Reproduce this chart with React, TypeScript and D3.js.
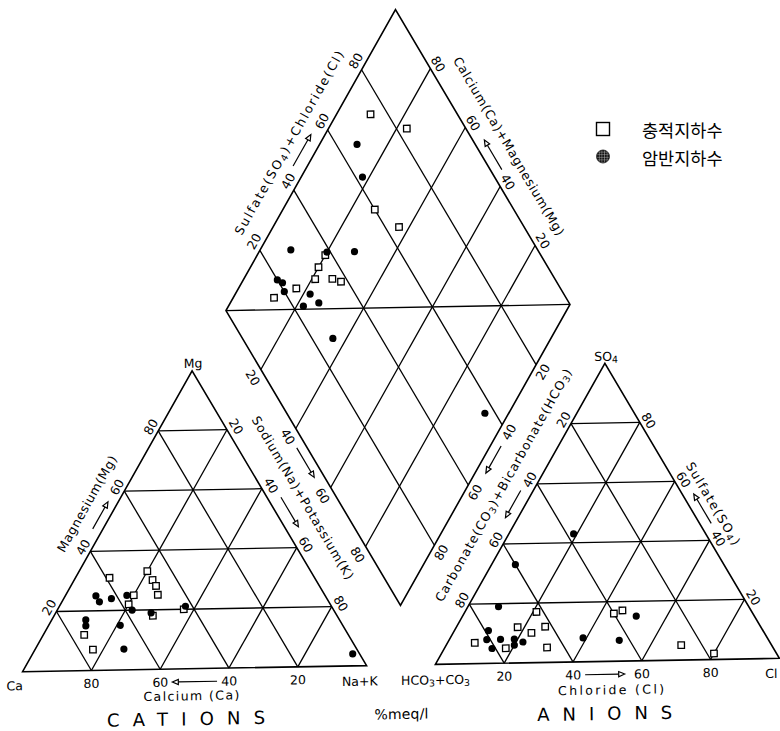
import React from "react";
import * as d3 from "d3";

const width = 780;
const height = 731;

const side = 344;
const gap = 0.2 * side;
const sin60 = Math.sqrt(3) / 2;
const baseY = 665;
const midX = 401;

// the scanned figure is slightly skewed
const skew = "matrix(1,-0.0177,0.0084,1,-5.6,7.1)";

const gridSteps = [20, 40, 60, 80];

// cation triangle, %meq/l : [Ca, Mg, Na+K]
const cationAlluvial = [
  [59, 31, 10], [47, 33, 20], [47, 30, 23], [47, 28, 25], [48, 25, 27], [55, 25, 20],
  [58, 22, 20], [43, 20, 37], [53, 18, 29], [76, 12, 12], [76, 7, 17]
];
const cationBedrock = [
  [66, 25, 9], [66, 23, 11], [62, 24, 14], [57, 25, 18], [58, 20, 22], [53, 19, 28],
  [42, 21, 37], [73, 17, 10], [74, 15, 11], [64, 15, 21], [67, 7, 26], [2, 4, 94]
];

// anion triangle, %meq/l : [HCO3+CO3, SO4, Cl]
const anionAlluvial = [
  [62, 17, 21], [70, 12, 18], [67, 10, 23], [62, 12, 26], [65, 5, 30], [77, 5, 18],
  [85, 7, 8], [40, 16, 44], [37, 17, 46], [26, 5, 69], [18, 2, 80]
];
const anionBedrock = [
  [38, 43, 19], [60, 33, 7], [72, 19, 9], [79, 11, 10], [81, 8, 11], [81, 5, 14],
  [77, 8, 15], [73, 8, 19], [74, 6, 20], [71, 7, 22], [53, 8, 39], [43, 7, 50], [34, 15, 51]
];

// diamond : [Na+K, SO4+Cl]
const diamondAlluvial = [
  [10, 75], [23, 83], [27, 60], [37, 64], [20, 38], [20, 34], [21, 31], [26, 36],
  [29, 38], [17, 24], [12, 16]
];
const diamondBedrock = [
  [11, 66], [18, 62], [9, 29], [20, 39], [28, 47], [10, 20], [12, 21], [14, 20],
  [22, 27], [26, 28], [22, 23], [36, 26], [93, 57]
];

const legendLabels = ["충적지하수", "암반지하수"];

const pct = d3.scaleLinear().domain([0, 100]).range([0, side]);

const caOrigin = { x: midX - side - gap / 2, y: baseY };
const hcOrigin = { x: midX + gap / 2, y: baseY };
const dLeft = { x: midX - side / 2, y: baseY - gap * sin60 - side * sin60 };

type P = [number, number];

function tri(o: { x: number; y: number }, a: number, t: number): P {
  return [o.x + pct(a) + pct(t) / 2, o.y - pct(t) * sin60];
}
function dia(u: number, v: number): P {
  return [dLeft.x + (pct(u) + pct(v)) / 2, dLeft.y + (pct(u) - pct(v)) * sin60];
}
const cationXY = (d: number[]) => {
  const s = d[0] + d[1] + d[2];
  return tri(caOrigin, (d[2] * 100) / s, (d[1] * 100) / s);
};
const anionXY = (d: number[]) => {
  const s = d[0] + d[1] + d[2];
  return tri(hcOrigin, (d[2] * 100) / s, (d[1] * 100) / s);
};
const diamondXY = (d: number[]) => dia(d[0], d[1]);

type Edge = { at: (g: number) => P; n: P; dir: P; angle: number };
const edges: Record<string, Edge> = {
  mg: { at: g => tri(caOrigin, 0, g), n: [-sin60, -0.5], dir: [0.5, -sin60], angle: -60 },
  nak: { at: g => tri(caOrigin, g, 100 - g), n: [sin60, -0.5], dir: [0.5, sin60], angle: 60 },
  hco3: { at: g => tri(hcOrigin, 0, 100 - g), n: [-sin60, -0.5], dir: [-0.5, sin60], angle: -60 },
  so4: { at: g => tri(hcOrigin, 100 - g, g), n: [sin60, -0.5], dir: [-0.5, -sin60], angle: 60 },
  dSc: { at: g => dia(0, g), n: [-sin60, -0.5], dir: [0.5, -sin60], angle: -60 },
  dCaMg: { at: g => dia(100 - g, 100), n: [sin60, -0.5], dir: [-0.5, -sin60], angle: 60 },
  dNak: { at: g => dia(g, 0), n: [-sin60, 0.5], dir: [0.5, sin60], angle: 60 },
  dHco3: { at: g => dia(100, 100 - g), n: [sin60, 0.5], dir: [-0.5, sin60], angle: -60 },
  caBase: { at: g => tri(caOrigin, 100 - g, 0), n: [0, 1], dir: [-1, 0], angle: 0 },
  clBase: { at: g => tri(hcOrigin, g, 0), n: [0, 1], dir: [1, 0], angle: 0 }
};

function place(e: Edge, g: number, on: number, oa = 0): P {
  const p = e.at(g);
  return [p[0] + e.n[0] * on + e.dir[0] * oa, p[1] + e.n[1] * on + e.dir[1] * oa];
}

// [edge, normal offset, along offset]
const tickSpecs: [string, number, number][] = [
  ["mg", 8.5, 0], ["nak", 9.5, 2], ["hco3", 8.5, 0], ["so4", 8.5, -3],
  ["dSc", 9.5, 5], ["dCaMg", 9, 0], ["dNak", 11, 3], ["dHco3", 9.5, 3],
  ["caBase", 13, 0], ["clBase", 13, 0]
];

// [edge, from, to, normal offset]
const arrowSpecs: [string, number, number, number][] = [
  ["mg", 46, 55, 9], ["nak", 45, 55, 12], ["dNak", 45, 55, 9], ["dSc", 46, 56.5, 12.5],
  ["dCaMg", 44, 54, 10], ["dHco3", 45.5, 54.5, 9.5], ["hco3", 44, 53, 11], ["so4", 44, 54, 10],
  ["caBase", 43.5, 56.5, 13], ["clBase", 43.5, 55, 13]
];

type Seg = { t: string; sub?: boolean };
// [edge, value, normal offset, length, text]
const titleSpecs: [string, number, number, number, Seg[]][] = [
  ["mg", 51.5, 27, 108, [{ t: "Magnesium(Mg)" }]],
  ["nak", 48.4, 31, 188, [{ t: "Sodium(Na)+Potassium(K)" }]],
  ["dSc", 51.3, 28, 208, [{ t: "Sulfate(SO" }, { t: "4", sub: true }, { t: ")+Chloride(Cl)" }]],
  ["dCaMg", 48.8, 28.5, 206, [{ t: "Calcium(Ca)+Magnesium(Mg)" }]],
  ["hco3", 45.1, 29.4, 264, [
    { t: "Carbonate(CO" }, { t: "3", sub: true }, { t: ")+Bicarbonate(HCO" }, { t: "3", sub: true }, { t: ")" }
  ]],
  ["so4", 48.7, 22.3, 94, [{ t: "Sulfate(SO" }, { t: "4", sub: true }, { t: ")" }]]
];

function rich(parts: Seg[]) {
  let shifted = false;
  return parts.map((p, i) => {
    let dy = 0;
    if (p.sub && !shifted) { dy = 3; shifted = true; }
    else if (!p.sub && shifted) { dy = -3; shifted = false; }
    return (
      <tspan key={i} dy={dy} fontSize={p.sub ? "0.75em" : undefined}>{p.t}</tspan>
    );
  });
}

function Arrow({ a, b }: { a: P; b: P }) {
  const dx = b[0] - a[0], dy = b[1] - a[1];
  const len = Math.hypot(dx, dy);
  const ux = dx / len, uy = dy / len;
  const hl = 6, hw = 2.6;
  const bx = b[0] - ux * hl, by = b[1] - uy * hl;
  const head = `M${b[0]},${b[1]}L${bx - uy * hw},${by + ux * hw}L${bx + uy * hw},${by - ux * hw}Z`;
  return (
    <g>
      <line x1={a[0]} y1={a[1]} x2={bx} y2={by} stroke="black" strokeWidth={1.2} />
      <path d={head} fill="white" stroke="black" strokeWidth={1.2} />
    </g>
  );
}

function Square({ p, size = 6.5 }: { p: P; size?: number }) {
  return (
    <rect x={p[0] - size / 2} y={p[1] - size / 2} width={size} height={size}
      fill="white" stroke="black" strokeWidth={1.3} />
  );
}
function Dot({ p }: { p: P }) {
  return <circle cx={p[0]} cy={p[1]} r={3.6} fill="black" />;
}

export default function App() {
  const font = "'DejaVu Sans', sans-serif";
  const line = (a: P, b: P, k: string, w = 1.3) => (
    <line key={k} x1={a[0]} y1={a[1]} x2={b[0]} y2={b[1]} stroke="black" strokeWidth={w} />
  );

  const gridLines: React.ReactNode[] = [];
  [caOrigin, hcOrigin].forEach((o, oi) => {
    gridSteps.forEach(g => {
      gridLines.push(line(tri(o, 0, g), tri(o, 100 - g, g), `t${oi}a${g}`));
      gridLines.push(line(tri(o, g, 0), tri(o, g, 100 - g), `t${oi}b${g}`));
      gridLines.push(line(tri(o, 100 - g, 0), tri(o, 0, 100 - g), `t${oi}c${g}`));
    });
  });
  gridSteps.forEach(g => {
    gridLines.push(line(dia(g, 0), dia(g, 100), `du${g}`));
    gridLines.push(line(dia(0, g), dia(100, g), `dv${g}`));
  });
  gridLines.push(line(dia(0, 0), dia(100, 100), "dmid"));

  const outline = (pts: P[]) => pts.map(p => p.join(",")).join(" ");

  const tickLabels: React.ReactNode[] = [];
  tickSpecs.forEach(([key, on, oa]) => {
    const e = edges[key];
    gridSteps.forEach(g => {
      const [x, y] = place(e, g, on, oa);
      tickLabels.push(
        <text key={key + g} transform={`translate(${x},${y}) rotate(${e.angle})`}
          textAnchor="middle" dominantBaseline="central" fontSize={12.5}>{g}</text>
      );
    });
  });

  const vertexLabels: { p: P; dx: number; dy: number; parts: Seg[] }[] = [
    { p: tri(caOrigin, 0, 100), dx: 1, dy: -8, parts: [{ t: "Mg" }] },
    { p: tri(caOrigin, 0, 0), dx: -8, dy: 13.5, parts: [{ t: "Ca" }] },
    { p: tri(caOrigin, 100, 0), dx: -7, dy: 15, parts: [{ t: "Na+K" }] },
    { p: tri(hcOrigin, 0, 100), dx: 1.3, dy: -7.5, parts: [{ t: "SO" }, { t: "4", sub: true }] },
    { p: tri(hcOrigin, 0, 0), dx: 0, dy: 15, parts: [{ t: "HCO" }, { t: "3", sub: true }, { t: "+CO" }, { t: "3", sub: true }] }
  ];

  const bottomTexts: { p: P; dy: number; text: string; size: number; len: number }[] = [
    { p: tri(caOrigin, 49, 0), dy: 27, text: "Calcium (Ca)", size: 12.5, len: 96 },
    { p: tri(hcOrigin, 51, 0), dy: 28.5, text: "Chloride (Cl)", size: 12.5, len: 106 },
    { p: tri(caOrigin, 47.4, 0), dy: 50, text: "CATIONS", size: 18, len: 158 },
    { p: tri(hcOrigin, 49.1, 0), dy: 52, text: "ANIONS", size: 18, len: 135 },
    { p: dia(100, 0), dy: 108.5, text: "%meq/l", size: 14, len: 54 }
  ];

  return (
    <svg width={width} height={height} style={{ position: "absolute", left: 0, top: 0, background: "white" }}
      fontFamily={font}>
      <defs>
        <pattern id="hatch" width={2.6} height={2.6} patternUnits="userSpaceOnUse">
          <rect width={2.6} height={2.6} fill="#111" />
          <path d="M0,1.3H2.6M1.3,0V2.6" stroke="#bbb" strokeWidth={0.45} />
        </pattern>
      </defs>
      <rect width={width} height={height} fill="white" />
      <g transform={skew}>
        {gridLines}
        <polygon points={outline([tri(caOrigin, 0, 0), tri(caOrigin, 100, 0), tri(caOrigin, 0, 100)])}
          fill="none" stroke="black" strokeWidth={1.6} />
        <polygon points={outline([tri(hcOrigin, 0, 0), tri(hcOrigin, 100, 0), tri(hcOrigin, 0, 100)])}
          fill="none" stroke="black" strokeWidth={1.6} />
        <polygon points={outline([dia(0, 0), dia(100, 0), dia(100, 100), dia(0, 100)])}
          fill="none" stroke="black" strokeWidth={1.6} />

        {tickLabels}

        {arrowSpecs.map(([key, g0, g1, on], i) => (
          <Arrow key={i} a={place(edges[key], g0, on)} b={place(edges[key], g1, on)} />
        ))}

        {titleSpecs.map(([key, g, on, len, parts], i) => {
          const e = edges[key];
          const [x, y] = place(e, g, on);
          return (
            <text key={i} transform={`translate(${x},${y}) rotate(${e.angle})`} textAnchor="middle"
              dominantBaseline="central" fontSize={12.5} textLength={len} lengthAdjust="spacing">
              {rich(parts)}
            </text>
          );
        })}

        {vertexLabels.map((v, i) => (
          <text key={i} x={v.p[0] + v.dx} y={v.p[1] + v.dy} textAnchor="middle"
            dominantBaseline="central" fontSize={12.5}>{rich(v.parts)}</text>
        ))}
        <text x={tri(hcOrigin, 100, 0)[0] - 2} y={baseY + 15} textAnchor="end"
          dominantBaseline="central" fontSize={12.5}>Cl</text>

        {bottomTexts.map((b, i) => (
          <text key={i} x={b.p[0]} y={b.p[1] + b.dy} textAnchor="middle" dominantBaseline="central"
            fontSize={b.size} textLength={b.len} lengthAdjust="spacing">{b.text}</text>
        ))}

        {cationAlluvial.map((d, i) => <Square key={"ca" + i} p={cationXY(d)} />)}
        {cationBedrock.map((d, i) => <Dot key={"cb" + i} p={cationXY(d)} />)}
        {anionAlluvial.map((d, i) => <Square key={"aa" + i} p={anionXY(d)} />)}
        {anionBedrock.map((d, i) => <Dot key={"ab" + i} p={anionXY(d)} />)}
        {diamondAlluvial.map((d, i) => <Square key={"da" + i} p={diamondXY(d)} />)}
        {diamondBedrock.map((d, i) => <Dot key={"db" + i} p={diamondXY(d)} />)}
      </g>

      <g>
        <rect x={596.5} y={122.5} width={13} height={13} fill="white" stroke="black" strokeWidth={1.4} />
        <circle cx={603} cy={156.5} r={6.5} fill="url(#hatch)" stroke="#111" strokeWidth={0.8} />
        {legendLabels.map((t, i) => (
          <text key={t} x={642} y={129 + i * 28} dominantBaseline="central"
            fontFamily="'Noto Sans CJK KR', sans-serif" fontSize={17.5}>{t}</text>
        ))}
      </g>
    </svg>
  );
}
